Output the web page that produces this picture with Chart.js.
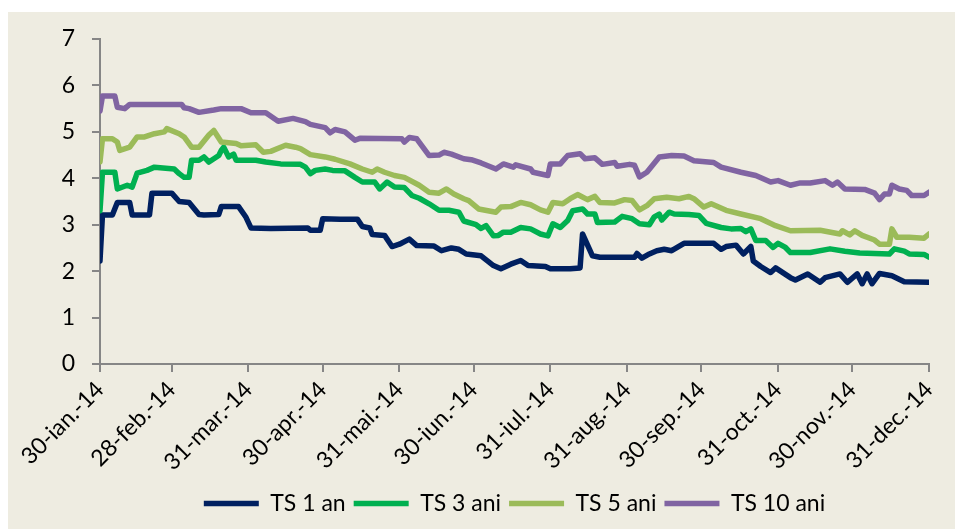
<!DOCTYPE html>
<html>
<head>
<meta charset="utf-8">
<script src="https://cdn.jsdelivr.net/npm/chart.js@4.4.1/dist/chart.umd.min.js"></script>
<style>
  html, body { margin: 0; padding: 0; background: #ffffff; }
  #panel { position: absolute; left: 8px; top: 12px; width: 947px; height: 517px; background: #EEECE1; }
  #panel canvas { display: block; }
</style>
</head>
<body>
<div id="panel"><canvas id="chart"></canvas></div>
<script>
// Day offsets are counted from 30 Jan 2014.
const tickDays   = [0, 29, 60, 90, 121, 151, 182, 213, 243, 274, 304, 335];
const tickLabels = ['30-ian.-14', '28-feb.-14', '31-mar.-14', '30-apr.-14', '31-mai.-14', '30-iun.-14',
                    '31-iul.-14', '31-aug.-14', '30-sep.-14', '31-oct.-14', '30-nov.-14', '31-dec.-14'];
const seriesNames = ['TS 1 an', 'TS 3 ani', 'TS 5 ani', 'TS 10 ani'];

// TS 1 an
const ts1Days   = [0, 1, 5, 7, 12, 13, 20, 21, 29, 32, 36, 40, 42, 48, 49, 56, 59, 61, 69, 84, 85, 89, 90, 97, 104, 106, 109, 110, 115, 118, 121, 125, 128, 135, 138, 142, 145, 148, 154, 159, 162, 166, 170, 173, 180, 182, 190, 194, 195, 199, 202, 216, 217, 219, 222, 225, 228, 231, 236, 248, 251, 253, 257, 260, 263, 264, 267, 271, 273, 279, 281, 286, 291, 293, 299, 302, 306, 308, 310, 312, 315, 320, 325, 335];
const ts1Values = [2.22, 3.21, 3.21, 3.48, 3.48, 3.21, 3.21, 3.68, 3.68, 3.5, 3.48, 3.22, 3.21, 3.22, 3.39, 3.39, 3.16, 2.93, 2.92, 2.93, 2.88, 2.88, 3.13, 3.12, 3.12, 2.96, 2.93, 2.79, 2.77, 2.53, 2.58, 2.69, 2.55, 2.54, 2.44, 2.5, 2.47, 2.37, 2.33, 2.12, 2.05, 2.15, 2.23, 2.12, 2.1, 2.05, 2.05, 2.07, 2.8, 2.33, 2.3, 2.3, 2.38, 2.28, 2.37, 2.44, 2.47, 2.44, 2.6, 2.6, 2.47, 2.53, 2.56, 2.37, 2.53, 2.22, 2.1, 1.97, 2.07, 1.86, 1.81, 1.94, 1.76, 1.86, 1.94, 1.76, 1.94, 1.73, 1.94, 1.73, 1.95, 1.9, 1.77, 1.76];

// TS 3 ani
const ts3Days   = [0, 1, 6, 7, 11, 13, 15, 19, 22, 30, 32, 34, 36, 37, 40, 42, 44, 48, 49, 50, 52, 54, 55, 63, 67, 73, 81, 83, 85, 87, 91, 94, 99, 103, 106, 111, 113, 116, 119, 123, 126, 129, 133, 137, 141, 145, 147, 152, 154, 156, 159, 161, 163, 166, 170, 174, 178, 181, 183, 186, 189, 191, 195, 197, 200, 201, 208, 211, 215, 218, 222, 224, 226, 227, 230, 232, 238, 242, 245, 251, 255, 259, 261, 263, 265, 269, 272, 274, 277, 279, 287, 295, 301, 307, 319, 321, 325, 327, 333, 335];
const ts3Values = [3.3, 4.13, 4.13, 3.77, 3.85, 3.81, 4.11, 4.17, 4.24, 4.2, 4.1, 4.02, 4.02, 4.39, 4.39, 4.46, 4.35, 4.49, 4.6, 4.67, 4.46, 4.52, 4.39, 4.39, 4.35, 4.31, 4.3, 4.24, 4.1, 4.17, 4.2, 4.17, 4.16, 4.02, 3.92, 3.92, 3.77, 3.92, 3.81, 3.8, 3.63, 3.57, 3.45, 3.31, 3.31, 3.27, 3.08, 3.0, 2.92, 2.98, 2.76, 2.77, 2.84, 2.84, 2.94, 2.91, 2.8, 2.76, 3.02, 2.94, 3.09, 3.3, 3.34, 3.23, 3.23, 3.05, 3.06, 3.18, 3.13, 3.02, 3.0, 3.17, 3.23, 3.1, 3.27, 3.23, 3.22, 3.2, 3.03, 2.94, 2.91, 2.92, 2.85, 2.91, 2.66, 2.66, 2.51, 2.6, 2.51, 2.4, 2.4, 2.48, 2.43, 2.39, 2.37, 2.48, 2.43, 2.37, 2.36, 2.3];

// TS 5 ani
const ts5Days   = [0, 1, 5, 7, 8, 12, 15, 18, 22, 26, 27, 32, 34, 37, 40, 44, 46, 49, 55, 57, 63, 66, 69, 75, 79, 81, 85, 91, 95, 101, 106, 110, 112, 115, 119, 123, 129, 133, 137, 140, 143, 147, 149, 153, 160, 162, 166, 170, 174, 178, 181, 183, 187, 190, 193, 197, 200, 202, 208, 212, 215, 218, 221, 224, 229, 234, 238, 240, 244, 247, 253, 259, 267, 273, 279, 291, 299, 300, 303, 305, 308, 313, 315, 319, 320, 322, 327, 333, 335];
const ts5Values = [4.35, 4.85, 4.85, 4.78, 4.6, 4.67, 4.89, 4.89, 4.96, 5.0, 5.07, 4.96, 4.89, 4.67, 4.67, 4.93, 5.03, 4.78, 4.75, 4.7, 4.72, 4.56, 4.58, 4.71, 4.67, 4.64, 4.51, 4.46, 4.41, 4.31, 4.2, 4.13, 4.2, 4.13, 4.06, 4.02, 3.85, 3.7, 3.68, 3.77, 3.66, 3.56, 3.52, 3.34, 3.27, 3.38, 3.39, 3.48, 3.43, 3.32, 3.27, 3.48, 3.45, 3.56, 3.65, 3.54, 3.61, 3.48, 3.47, 3.54, 3.52, 3.32, 3.41, 3.56, 3.59, 3.56, 3.61, 3.56, 3.38, 3.45, 3.31, 3.23, 3.13, 2.98, 2.87, 2.88, 2.8, 2.87, 2.78, 2.87, 2.77, 2.67, 2.58, 2.58, 2.91, 2.73, 2.73, 2.71, 2.8];

// TS 10 ani
const ts10Days   = [0, 1, 6, 7, 10, 12, 33, 34, 36, 40, 46, 49, 57, 61, 67, 72, 78, 83, 85, 91, 93, 95, 99, 103, 105, 122, 123, 125, 128, 133, 137, 139, 142, 147, 150, 154, 160, 163, 167, 168, 174, 175, 181, 182, 186, 189, 194, 196, 200, 203, 208, 209, 214, 216, 218, 221, 226, 231, 236, 240, 248, 251, 259, 265, 271, 274, 279, 283, 287, 293, 296, 298, 301, 309, 313, 315, 317, 319, 320, 323, 326, 328, 333, 335];
const ts10Values = [5.45, 5.77, 5.77, 5.53, 5.5, 5.59, 5.59, 5.52, 5.5, 5.42, 5.47, 5.5, 5.5, 5.41, 5.41, 5.23, 5.29, 5.22, 5.16, 5.09, 4.98, 5.05, 5.0, 4.82, 4.86, 4.85, 4.78, 4.88, 4.85, 4.49, 4.5, 4.56, 4.52, 4.42, 4.4, 4.33, 4.2, 4.31, 4.24, 4.29, 4.2, 4.13, 4.06, 4.31, 4.31, 4.49, 4.53, 4.42, 4.44, 4.3, 4.34, 4.26, 4.3, 4.28, 4.03, 4.13, 4.46, 4.49, 4.48, 4.38, 4.34, 4.24, 4.13, 4.06, 3.92, 3.95, 3.85, 3.9, 3.9, 3.95, 3.85, 3.92, 3.77, 3.76, 3.68, 3.54, 3.66, 3.66, 3.85, 3.77, 3.74, 3.63, 3.63, 3.7];

const seriesColors = ['#002060', '#00B050', '#9BBB59', '#8064A2'];

const toPoints = (days, values) => days.map((d, i) => ({ x: d, y: values[i] }));
const seriesDays   = [ts1Days, ts3Days, ts5Days, ts10Days];
const seriesValues = [ts1Values, ts3Values, ts5Values, ts10Values];

const FONT = 'Lato, "Open Sans", sans-serif';
const axisGray = '#868686';

const datasets = seriesNames.map((name, k) => ({
  label: name,
  data: toPoints(seriesDays[k], seriesValues[k]),
  borderColor: seriesColors[k],
  backgroundColor: seriesColors[k],
  borderWidth: 5.5,
  borderCapStyle: 'round',
  borderJoinStyle: 'round',
  pointRadius: 0,
  pointHoverRadius: 0,
  tension: 0,
  order: seriesNames.length - k
}));

new Chart(document.getElementById('chart'), {
  type: 'line',
  data: { datasets },
  options: {
    responsive: true,
    maintainAspectRatio: false,
    animation: false,
    events: [],
    layout: { padding: { top: 27, right: 26, left: 0, bottom: 4 } },
    plugins: {
      tooltip: { enabled: false },
      legend: {
        position: 'bottom',
        fullSize: false,
        labels: {
          usePointStyle: true,
          pointStyle: 'line',
          pointStyleWidth: 55,
          boxHeight: 5,
          padding: 8,
          color: '#000000',
          font: { family: FONT, size: 23 },
          sort: (a, b) => a.datasetIndex - b.datasetIndex
        }
      }
    },
    scales: {
      x: {
        type: 'linear',
        min: 0,
        max: 335,
        afterBuildTicks: (scale) => { scale.ticks = tickDays.map(v => ({ value: v })); },
        afterFit: (scale) => { scale.height = 120; },
        border: { display: true, color: axisGray, width: 2 },
        grid: { display: true, drawOnChartArea: false, drawTicks: true, tickLength: 8, color: axisGray, lineWidth: 2 },
        ticks: {
          autoSkip: false,
          maxRotation: 45,
          minRotation: 45,
          padding: 4,
          color: '#000000',
          font: { family: FONT, size: 23 },
          callback: (value, index) => tickLabels[index]
        }
      },
      y: {
        min: 0,
        max: 7,
        afterFit: (scale) => { scale.width = 92; scale.paddingTop = 12; },
        border: { display: true, color: axisGray, width: 2 },
        grid: { display: true, drawOnChartArea: false, drawTicks: true, tickLength: 8, color: axisGray, lineWidth: 2 },
        ticks: {
          stepSize: 1,
          padding: 17,
          color: '#000000',
          font: { family: FONT, size: 23 }
        }
      }
    }
  }
});
</script>
</body>
</html>
